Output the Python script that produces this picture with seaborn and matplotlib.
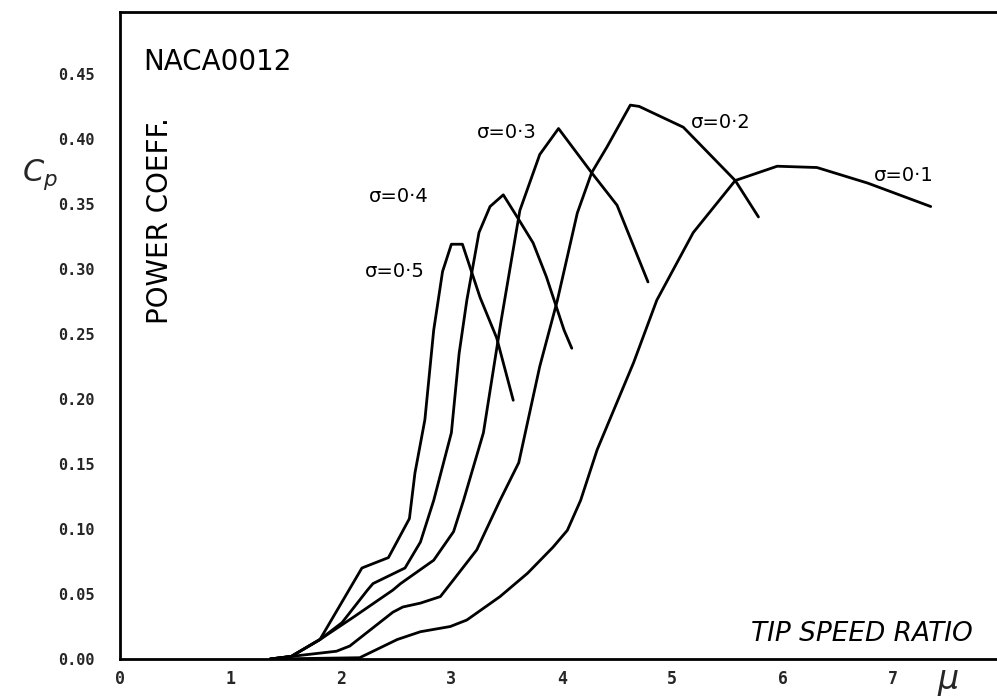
import matplotlib
matplotlib.use("Agg")
import matplotlib.pyplot as plt
import seaborn as sns
import pandas as pd

# ---- data ----
x_s05 = [1.36, 1.55, 1.81, 2.19, 2.43, 2.62, 2.67, 2.76, 2.84, 2.92, 3.00, 3.10, 3.26, 3.41, 3.56]
y_s05 = [0.000, 0.002, 0.015, 0.070, 0.078, 0.108, 0.143, 0.184, 0.253, 0.298, 0.319, 0.319, 0.278, 0.247, 0.199]

x_s04 = [1.36, 1.55, 1.81, 2.01, 2.24, 2.29, 2.58, 2.72, 2.84, 3.00, 3.07, 3.14, 3.25, 3.35, 3.47, 3.61, 3.74, 3.86, 4.02, 4.09]
y_s04 = [0.000, 0.002, 0.015, 0.028, 0.053, 0.058, 0.070, 0.090, 0.122, 0.174, 0.235, 0.276, 0.328, 0.348, 0.357, 0.338, 0.320, 0.294, 0.253, 0.239]

x_s03 = [1.36, 1.55, 1.81, 2.11, 2.47, 2.54, 2.84, 3.02, 3.11, 3.29, 3.45, 3.62, 3.80, 3.97, 4.27, 4.50, 4.78]
y_s03 = [0.000, 0.002, 0.015, 0.032, 0.053, 0.058, 0.076, 0.098, 0.122, 0.174, 0.260, 0.345, 0.388, 0.408, 0.374, 0.349, 0.290]

x_s02 = [1.36, 1.55, 1.96, 2.08, 2.47, 2.56, 2.72, 2.90, 3.02, 3.23, 3.44, 3.61, 3.80, 3.96, 4.14, 4.27, 4.41, 4.62, 4.70, 5.10, 5.57, 5.78]
y_s02 = [0.000, 0.002, 0.006, 0.010, 0.036, 0.040, 0.043, 0.048, 0.061, 0.084, 0.122, 0.151, 0.225, 0.276, 0.343, 0.374, 0.394, 0.426, 0.425, 0.409, 0.368, 0.340]

x_s01 = [1.36, 2.17, 2.51, 2.72, 2.99, 3.14, 3.44, 3.69, 3.92, 4.05, 4.17, 4.32, 4.65, 4.86, 5.19, 5.57, 5.95, 6.31, 6.77, 7.34]
y_s01 = [0.000, 0.001, 0.015, 0.021, 0.025, 0.030, 0.048, 0.066, 0.086, 0.099, 0.122, 0.161, 0.228, 0.276, 0.328, 0.368, 0.379, 0.378, 0.366, 0.348]

sigma_labels = ["σ=0·5", "σ=0·4", "σ=0·3", "σ=0·2", "σ=0·1"]
x_ticks = [0, 1, 2, 3, 4, 5, 6, 7]
y_ticks = [0.00, 0.05, 0.10, 0.15, 0.20, 0.25, 0.30, 0.35, 0.40, 0.45]
y_tick_labels = ["0.00", "0.05", "0.10", "0.15", "0.20", "0.25", "0.30", "0.35", "0.40", "0.45"]

curves = [(x_s05, y_s05), (x_s04, y_s04), (x_s03, y_s03), (x_s02, y_s02), (x_s01, y_s01)]
rows = []
for lab, (xs, ys) in zip(sigma_labels, curves):
    for xv, yv in zip(xs, ys):
        rows.append({"sigma": lab, "mu": xv, "cp": yv})
df = pd.DataFrame(rows)

# label anchor positions (data coords)
label_pos = {
    "σ=0·5": (2.49, 0.298),
    "σ=0·4": (2.52, 0.356),
    "σ=0·3": (3.50, 0.405),
    "σ=0·2": (5.44, 0.413),
    "σ=0·1": (7.10, 0.372),
}

sns.set_theme(style="white")
plt.rcParams['font.family'] = ['DejaVu Sans']

fig = plt.figure(figsize=(9.97, 6.99), dpi=100)
ax = fig.add_axes([0.1204, 0.0572, 1.0 - 0.1204, 0.983 - 0.0572])

sns.lineplot(data=df, x="mu", y="cp", hue="sigma", units="sigma", estimator=None,
             sort=False, palette=["black"] * 5, linewidth=2.0, legend=False, ax=ax)

ax.set_xlim(0, 7.94)
ax.set_ylim(0, 0.4977)
ax.set_xticks(x_ticks)
ax.set_xticklabels([str(t) for t in x_ticks], fontsize=12, fontweight="bold", family="DejaVu Sans Mono")
ax.set_yticks(y_ticks)
ax.set_yticklabels(y_tick_labels, fontsize=11, fontweight="bold", family="DejaVu Sans Mono")
ax.tick_params(axis="both", direction="in", length=5, width=1.5, color="black")
ax.tick_params(axis="y", pad=18)
ax.tick_params(axis="x", pad=8)
ax.set_xlabel("")
ax.set_ylabel("")

for side in ["left", "bottom", "top"]:
    ax.spines[side].set_visible(True)
    ax.spines[side].set_color("black")
    ax.spines[side].set_linewidth(2.0)
ax.spines["right"].set_visible(False)

for lab, (tx, ty) in label_pos.items():
    ax.text(tx, ty, lab, fontsize=14, ha="center", va="center", color="black")

ax.text(0.21, 0.459, "NACA0012", fontsize=20, ha="left", va="center", color="black")
ax.text(0.36, 0.337, "POWER COEFF.", fontsize=20, rotation=90, ha="center", va="center", color="black")
ax.text(6.72, 0.019, "TIP SPEED RATIO", fontsize=19, style="italic", ha="center", va="center", color="black")

fig.text(40 / 997, 1 - 175 / 699, "$C_p$", fontsize=22, ha="center", va="center")
fig.text(948 / 997, 1 - 682 / 699, r"$\mu$", fontsize=24, ha="center", va="center")

fig.savefig("out.png", dpi=100, facecolor="white")
